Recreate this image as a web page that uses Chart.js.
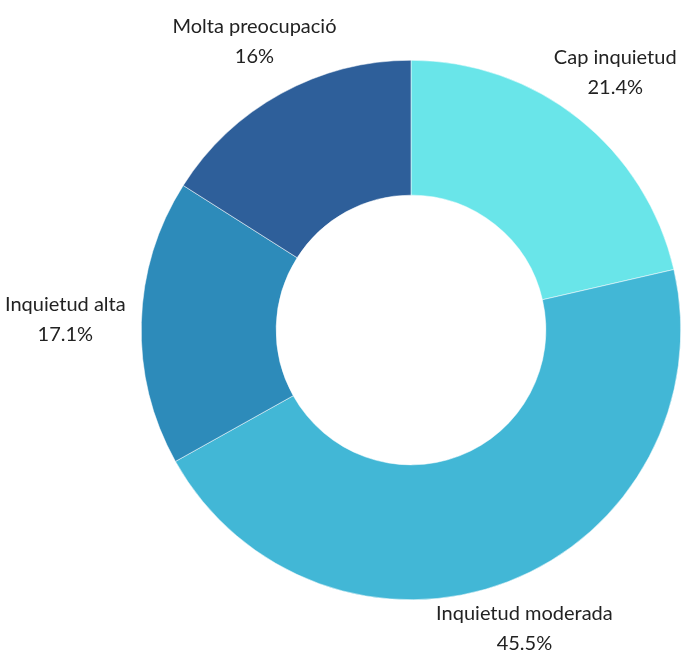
<!DOCTYPE html>
<html>
<head>
<meta charset="utf-8">
<script src="https://cdn.jsdelivr.net/npm/chart.js@4"></script>
<style>
  body { margin: 0; background: #fff; }
  #wrap { width: 681px; height: 652px; }
</style>
</head>
<body>
<div id="wrap"><canvas id="myChart" width="681" height="652"></canvas></div>
<script>
const categories = ["Cap inquietud", "Inquietud moderada", "Inquietud alta", "Molta preocupació"];
const values = [21.4, 45.5, 17.1, 16];
const colors = ["#69e5e9", "#42b7d6", "#2d8bba", "#2e5f9a"];

// labels outside the ring, two lines: name + percentage
const outLabels = {
  id: "outLabels",
  afterDatasetsDraw(chart) {
    const ctx = chart.ctx;
    const meta = chart.getDatasetMeta(0);
    const lineH = 30;
    ctx.save();
    ctx.font = "20px 'Lato', sans-serif";
    ctx.fillStyle = "#222";
    ctx.textAlign = "center";
    ctx.textBaseline = "middle";
    meta.data.forEach((arc, i) => {
      const p = arc.getProps(["x", "y", "startAngle", "endAngle", "outerRadius"], true);
      const mid = (p.startAngle + p.endAngle) / 2;
      const dx = Math.cos(mid), dy = Math.sin(mid);
      const lines = [categories[i], values[i] + "%"];
      const w = Math.max(...lines.map(l => ctx.measureText(l).width));
      const r = p.outerRadius + 25;
      let cx = p.x + dx * r + dx * Math.pow(Math.abs(dx), 1.5) * (w / 2) * 1.1;
      // keep text inside the canvas
      cx = Math.min(Math.max(cx, w / 2 + 5), chart.width - w / 2 - 1);
      const cy = p.y + dy * r + dy * 30 - 1 - 3.5 * Math.abs(dy);
      ctx.fillText(lines[0], cx, cy - lineH / 2);
      ctx.fillText(lines[1], cx, cy + lineH / 2);
    });
    ctx.restore();
  }
};

const ctx = document.getElementById("myChart").getContext("2d");
const myChart = new Chart(ctx, {
  type: "doughnut",
  data: {
    labels: categories,
    datasets: [{
      data: values,
      backgroundColor: colors,
      borderColor: "#fff",
      borderWidth: 0.5
    }]
  },
  options: {
    responsive: false,
    animation: false,
    cutout: "50%",
    layout: { padding: { top: 60, bottom: 52, left: 141, right: 0 } },
    plugins: {
      legend: { display: false },
      tooltip: { enabled: false }
    }
  },
  plugins: [outLabels]
});
</script>
</body>
</html>
